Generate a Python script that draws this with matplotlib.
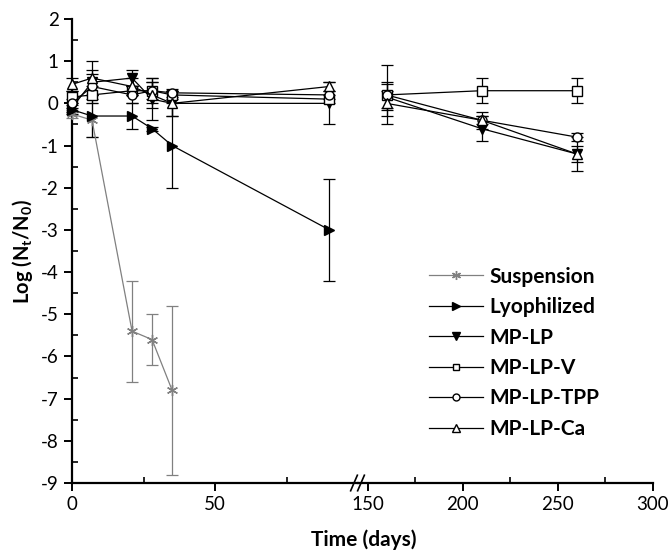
"""
Survival of L. plantarum formulations over storage time (broken time axis)
"""

import numpy as np
import matplotlib.pyplot as plt
from matplotlib.lines import Line2D

plt.rcParams['font.family'] = ['Lato', 'DejaVu Sans']
plt.rcParams['axes.unicode_minus'] = False
plt.rcParams['mathtext.fontset'] = 'custom'
plt.rcParams['mathtext.bf'] = 'Lato:bold'
plt.rcParams['mathtext.rm'] = 'Lato:bold'
plt.rcParams['mathtext.default'] = 'bf'

# data
days = [0, 7, 21, 28, 35, 90, 160, 210, 260]
days_susp = [0, 7, 21, 28, 35]
days_lyo = [0, 7, 21, 28, 35, 90]

susp = [-0.25, -0.4, -5.4, -5.6, -6.8]
susp_err = [0.1, 0.4, 1.2, 0.6, 2.0]

lyo = [-0.15, -0.3, -0.3, -0.6, -1.0, -3.0]
lyo_err = [0.1, 0.5, 0.3, 0.05, 1.0, 1.2]

mplp = [-0.1, 0.5, 0.6, 0.1, 0.0, 0.0, 0.15, -0.6, -1.2]
mplp_err = [0.1, 0.3, 0.2, 0.5, 0.3, 0.5, 0.3, 0.3, 0.2]

mplp_v = [0.15, 0.2, 0.3, 0.3, 0.2, 0.1, 0.2, 0.3, 0.3]
mplp_v_err = [0.15, 0.2, 0.1, 0.3, 0.1, 0.1, 0.7, 0.3, 0.3]

mplp_tpp = [0.0, 0.4, 0.2, 0.3, 0.25, 0.2, 0.2, -0.4, -0.8]
mplp_tpp_err = [0.1, 0.3, 0.2, 0.2, 0.1, 0.1, 0.3, 0.1, 0.1]

mplp_ca = [0.45, 0.6, 0.4, 0.2, 0.0, 0.4, 0.0, -0.4, -1.2]
mplp_ca_err = [0.15, 0.4, 0.2, 0.3, 0.3, 0.1, 0.3, 0.2, 0.4]

series = [
    ('Suspension', days_susp, susp, susp_err, (6, 2, 0), 'gray', 'gray', 8),
    ('Lyophilized', days_lyo, lyo, lyo_err, '>', 'black', 'black', 7.5),
    ('MP-LP', days, mplp, mplp_err, 'v', 'black', 'black', 7.5),
    ('MP-LP-V', days, mplp_v, mplp_v_err, 's', 'white', 'black', 6.5),
    ('MP-LP-TPP', days, mplp_tpp, mplp_tpp_err, 'o', 'white', 'black', 6.5),
    ('MP-LP-Ca', days, mplp_ca, mplp_ca_err, '^', 'white', 'black', 7.5),
]

fig = plt.figure(figsize=(6.71, 5.55), dpi=100)
W, H = 671, 555
bot = 1 - 483 / H
hgt = (483 - 19) / H
ax1 = fig.add_axes([72 / W, bot, (358 - 72) / W, hgt])
ax2 = fig.add_axes([358 / W, bot, (653 - 358) / W, hgt], sharey=ax1)

for ax, lo, hi in [(ax1, -1, 100), (ax2, 100, 400)]:
    for name, x, y, e, m, fc, ec, ms in series:
        x = np.array(x)
        y = np.array(y)
        e = np.array(e)
        sel = (x > lo) & (x < hi)
        ax.errorbar(x[sel], y[sel], yerr=e[sel], color=ec, marker=m,
                    mfc=fc, mec=ec, ms=ms, lw=0.9, elinewidth=0.9,
                    capsize=4, capthick=0.9, clip_on=False, zorder=3)

ax1.set_xlim(0, 100)
ax2.set_xlim(145, 300)
ax1.set_ylim(-9, 2)
ax1.set_yticks(np.arange(-9, 3, 1))
ax1.set_yticks(np.arange(-9, 2.5, 0.5), minor=True)
ax1.set_xticks([0, 50])
ax1.set_xticks([25, 75], minor=True)
ax2.set_xticks([150, 200, 250, 300])
ax2.set_xticks([175, 225, 275], minor=True)

for ax in (ax1, ax2):
    ax.spines['top'].set_visible(False)
    ax.spines['right'].set_visible(False)
    ax.spines['bottom'].set_linewidth(1.6)
    ax.spines['left'].set_linewidth(1.6)
    ax.tick_params(which='major', direction='out', length=6, width=1.4,
                   labelsize=13.5)
    ax.tick_params(which='minor', direction='in', length=4, width=1.2)
    ax.patch.set_visible(False)
ax2.spines['left'].set_visible(False)
ax2.tick_params(axis='y', which='both', left=False, labelleft=False)

ax1.set_ylabel('Log (N$_t$/N$_0$)', fontsize=14.5, fontweight='bold', labelpad=4)
fig.text(364 / W, 1 - 540 / H, 'Time (days)', ha='center', va='center',
         fontsize=15, fontweight='bold')

# break marks on the time axis
yb = 1 - 483 / H
for xb in (354, 361):
    fig.add_artist(Line2D([xb / W - 0.005, xb / W + 0.005],
                          [yb - 0.014, yb + 0.014], color='black', lw=1.2))

handles = [Line2D([], [], color=ec, marker=m, mfc=fc, mec=ec, ms=ms - 1.5, lw=0.9)
           for name, x, y, e, m, fc, ec, ms in series]
labels = [s[0] for s in series]
fig.legend(handles, labels, loc='upper left', bbox_to_anchor=(410 / W, 1 - 248 / H),
           frameon=False, prop={'size': 15, 'weight': 'bold'},
           handlelength=2.6, labelspacing=0.5, handletextpad=0.3)

plt.savefig('out.png', dpi=100)
